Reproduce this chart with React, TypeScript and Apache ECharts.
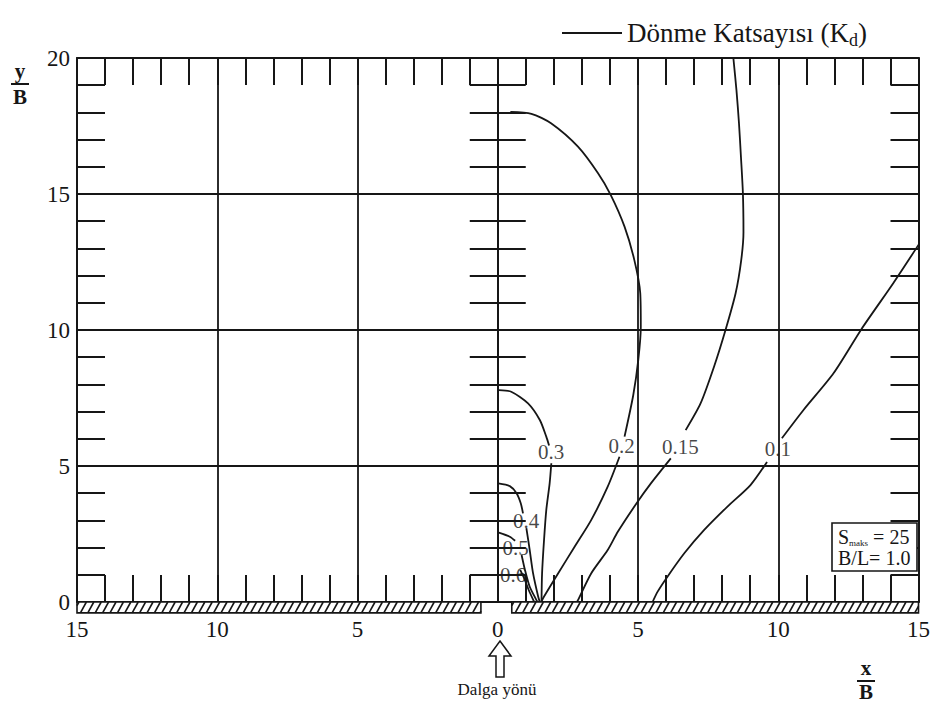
import React, { useEffect, useRef } from "react";
import * as echarts from "echarts";

// ---------- data (x/B, y/B) ----------
const X_MIN = -15;
const X_MAX = 15;
const Y_MIN = 0;
const Y_MAX = 20;
const MAJOR_STEP = 5;

const SERIES_NAME = "Dönme Katsayısı (Kd)";

// contour Kd = 0.2 (big loop), split where its label sits
const kd020Upper = [[0.45, 18.02], [1.2, 17.95], [1.9, 17.6], [2.86, 16.74], [3.57, 15.77], [4.03, 14.96], [4.52, 13.8], [4.87, 12.57], [5.08, 11.36], [5.1, 10.12], [5.01, 8.9], [4.83, 7.6], [4.52, 6.08]];
const kd020Lower = [[4.34, 5.34], [3.92, 4.24], [3.33, 3.01], [2.74, 2.03], [2.15, 1.05], [1.62, 0.15], [1.55, 0.0]];
// contour Kd = 0.3
const kd030Upper = [[0.04, 7.79], [0.48, 7.73], [1.08, 7.3], [1.5, 6.69], [1.73, 6.08], [1.83, 5.75]];
const kd030Lower = [[1.91, 5.1], [1.85, 4.36], [1.73, 3.38], [1.65, 2.28], [1.58, 1.05], [1.56, 0.0]];
// contour Kd = 0.4
const kd040Upper = [[0.02, 4.36], [0.43, 4.26], [0.67, 4.0], [0.82, 3.63], [0.9, 3.26]];
const kd040Lower = [[1.02, 2.72], [1.14, 1.91], [1.26, 1.05], [1.44, 0.2], [1.5, 0.0]];
// contour Kd = 0.5
const kd050Upper = [[0.04, 2.55], [0.43, 2.4], [0.62, 2.25]];
const kd050Lower = [[0.85, 1.73], [0.97, 1.18], [1.14, 0.56], [1.38, 0.07], [1.42, 0.0]];
// contour Kd = 0.6
const kd060Lower = [[0.8, 1.18], [0.95, 0.85], [1.1, 0.45], [1.3, 0.0]];
// contour Kd = 0.15
const kd015Upper = [[8.4, 20.0], [8.51, 18.82], [8.6, 17.6], [8.67, 16.37], [8.74, 15.03], [8.76, 13.6], [8.68, 12.57], [8.48, 11.35], [8.12, 10.0], [7.71, 8.65], [7.23, 7.3], [6.7, 6.32]];
const kd015Lower = [[6.17, 5.28], [5.46, 4.36], [4.95, 3.63], [4.28, 2.58], [3.92, 1.91], [3.33, 1.05], [2.86, 0.07], [2.82, 0.0]];
// contour Kd = 0.1
const kd010Lower = [[5.52, 0.0], [5.7, 0.38], [6.05, 0.93], [6.65, 1.79], [7.36, 2.65], [8.18, 3.5], [9.01, 4.3], [9.6, 5.15]];
const kd010Upper = [[10.13, 6.02], [10.9, 7.06], [11.97, 8.41], [12.97, 10.04], [14.1, 11.72], [15.0, 13.13]];

// contour labels: [x, y, text]
const contourLabels = [
  [1.9, 5.5, "0.3"],
  [4.42, 5.73, "0.2"],
  [6.51, 5.7, "0.15"],
  [9.99, 5.62, "0.1"],
  [1.01, 2.98, "0.4"],
  [0.64, 2.0, "0.5"],
  [0.55, 1.01, "0.6"],
];

// breakwater (hatched) extents along x, and its depth below y = 0
const wallSegments = [[-15, -0.6], [0.5, 15]];
const WALL_DEPTH = 0.4;

const INK = "#161616";
const SERIF = "Liberation Serif";

const contourSegments = [
  kd020Upper, kd020Lower, kd030Upper, kd030Lower, kd040Upper, kd040Lower,
  kd050Upper, kd050Lower, kd060Lower, kd015Upper, kd015Lower, kd010Lower, kd010Upper,
];

export default function App() {
  const ref = useRef<HTMLDivElement>(null);

  useEffect(() => {
    if (!ref.current) return;
    const chart = echarts.init(ref.current, undefined, { renderer: "svg" });

    const frameLine = { show: true, onZero: false, lineStyle: { color: INK, width: 2 } };
    const tickX = { show: true, inside: true, length: 27, lineStyle: { color: INK, width: 2 } };
    const minorX = { show: true, splitNumber: 5, length: 27, lineStyle: { color: INK, width: 2 } };
    const tickY = { show: true, inside: true, length: 28, lineStyle: { color: INK, width: 2 } };
    const minorY = { show: true, splitNumber: 5, length: 28, lineStyle: { color: INK, width: 2 } };

    const lineSeries = contourSegments.map((seg) => ({
      type: "line",
      name: SERIES_NAME,
      data: seg,
      symbol: "none",
      smooth: 0.25,
      xAxisIndex: 0,
      yAxisIndex: 0,
      lineStyle: { color: INK, width: 1.8 },
      itemStyle: { color: INK },
      z: 4,
      silent: true,
    }));

    const fracText = (text: string, y: number) => ({
      type: "text",
      x: 10,
      y,
      style: {
        text,
        fontFamily: SERIF,
        fontWeight: "bold",
        fontSize: 21,
        fill: INK,
        textAlign: "center",
        textVerticalAlign: "middle",
        verticalAlign: "middle",
      },
    });

    const option: any = {
      animation: false,
      backgroundColor: "#ffffff",
      grid: { left: 77, right: 11, top: 58, bottom: 102, containLabel: false },
      legend: {
        data: [{ name: SERIES_NAME, icon: "rect" }],
        left: 557,
        top: 12,
        itemWidth: 60,
        itemHeight: 2,
        itemGap: 10,
        selectedMode: false,
        itemStyle: { color: INK, borderWidth: 0 },
        formatter: () => "Dönme Katsayısı (K{sub|d})",
        textStyle: {
          fontFamily: SERIF,
          fontSize: 27,
          color: INK,
          lineHeight: 32,
          rich: {
            sub: { fontFamily: SERIF, fontSize: 18, verticalAlign: "bottom", lineHeight: 16, color: INK },
          },
        },
      },
      xAxis: [
        {
          type: "value",
          position: "bottom",
          min: X_MIN,
          max: X_MAX,
          interval: MAJOR_STEP,
          axisLine: frameLine,
          axisTick: tickX,
          minorTick: minorX,
          splitLine: { show: true, lineStyle: { color: INK, width: 1.8 } },
          axisLabel: {
            margin: 16,
            fontFamily: SERIF,
            fontSize: 23,
            color: INK,
            formatter: (v: number) => String(Math.abs(v)),
          },
        },
        {
          type: "value",
          position: "top",
          min: X_MIN,
          max: X_MAX,
          interval: MAJOR_STEP,
          axisLine: frameLine,
          axisTick: tickX,
          minorTick: minorX,
          splitLine: { show: false },
          axisLabel: { show: false },
        },
      ],
      yAxis: [
        {
          type: "value",
          position: "left",
          min: Y_MIN,
          max: Y_MAX,
          interval: MAJOR_STEP,
          axisLine: frameLine,
          axisTick: tickY,
          minorTick: minorY,
          splitLine: { show: true, lineStyle: { color: INK, width: 1.8 } },
          axisLabel: { margin: 7, fontFamily: SERIF, fontSize: 23, color: INK },
        },
        {
          type: "value",
          position: "right",
          min: Y_MIN,
          max: Y_MAX,
          interval: MAJOR_STEP,
          axisLine: frameLine,
          axisTick: tickY,
          minorTick: minorY,
          splitLine: { show: false },
          axisLabel: { show: false },
        },
        {
          type: "value",
          position: "left",
          min: Y_MIN,
          max: Y_MAX,
          interval: MAJOR_STEP,
          axisLine: { show: true, onZero: true, lineStyle: { color: INK, width: 2 } },
          axisTick: tickY,
          minorTick: minorY,
          splitLine: { show: false },
          axisLabel: { show: false },
        },
        {
          type: "value",
          position: "right",
          min: Y_MIN,
          max: Y_MAX,
          interval: MAJOR_STEP,
          axisLine: { show: true, onZero: true, lineStyle: { color: INK, width: 2 } },
          axisTick: tickY,
          minorTick: minorY,
          splitLine: { show: false },
          axisLabel: { show: false },
        },
      ],
      series: [
        ...lineSeries,
        {
          type: "scatter",
          name: "labels",
          data: contourLabels,
          xAxisIndex: 0,
          yAxisIndex: 0,
          symbolSize: 0,
          silent: true,
          z: 5,
          label: {
            show: true,
            position: "inside",
            formatter: (p: any) => p.value[2],
            fontFamily: SERIF,
            fontSize: 21,
            color: INK,
          },
        },
        {
          type: "custom",
          name: "wall",
          coordinateSystem: "cartesian2d",
          xAxisIndex: 0,
          yAxisIndex: 0,
          data: wallSegments.map((s) => [s[0], s[1], 0]),
          encode: { x: [0, 1], y: 2 },
          clip: false,
          silent: true,
          z: 6,
          renderItem: (params: any, api: any) => {
            const a = api.coord([api.value(0), 0]);
            const b = api.coord([api.value(1), -WALL_DEPTH]);
            const left = a[0];
            const right = b[0];
            const top = a[1];
            const bottom = b[1];
            const h = bottom - top;
            const dx = 6;
            const step = 7.4;
            const children: any[] = [
              {
                type: "rect",
                shape: { x: left, y: top, width: right - left, height: h },
                style: { fill: "#fff", stroke: INK, lineWidth: 1.6 },
              },
            ];
            for (let px = left - dx + 2; px < right; px += step) {
              let x1 = px, y1 = bottom, x2 = px + dx, y2 = top;
              if (x1 < left) {
                const t = (left - x1) / dx;
                x1 = left;
                y1 = bottom - t * h;
              }
              if (x2 > right) {
                const t = (right - px) / dx;
                x2 = right;
                y2 = bottom - t * h;
              }
              children.push({
                type: "line",
                shape: { x1, y1, x2, y2 },
                style: { stroke: INK, lineWidth: 1.6 },
              });
            }
            return { type: "group", children };
          },
        },
      ],
      graphic: [
        // y/B axis title
        {
          type: "group",
          x: 10,
          y: 0,
          children: [
            fracText("y", 71),
            { type: "line", shape: { x1: 1, y1: 84, x2: 19, y2: 84 }, style: { stroke: INK, lineWidth: 2 } },
            fracText("B", 97),
          ],
        },
        // x/B axis title
        {
          type: "group",
          x: 856,
          y: 0,
          children: [
            fracText("x", 668),
            { type: "line", shape: { x1: 1, y1: 681, x2: 19, y2: 681 }, style: { stroke: INK, lineWidth: 2 } },
            fracText("B", 692),
          ],
        },
        // wave direction arrow
        {
          type: "polygon",
          shape: { points: [[500, 641], [511, 656], [504, 656], [504, 677], [496, 677], [496, 656], [489, 656]] },
          style: { fill: "#fff", stroke: INK, lineWidth: 1.5 },
        },
        {
          type: "text",
          x: 497,
          y: 681,
          style: { text: "Dalga yönü", fontFamily: SERIF, fontSize: 17, fill: INK, textAlign: "center" },
        },
        // parameter box
        {
          type: "rect",
          shape: { x: 832, y: 523, width: 85, height: 48 },
          style: { fill: "#fff", stroke: INK, lineWidth: 1.6 },
          z: 20,
        },
        {
          type: "text",
          x: 838,
          y: 527,
          z: 21,
          style: {
            text: "{s|S}{sub|maks}{s| = 25}",
            fill: INK,
            rich: {
              s: { fontFamily: SERIF, fontSize: 20, color: INK, lineHeight: 20 },
              sub: { fontFamily: SERIF, fontSize: 9, color: INK, verticalAlign: "bottom", lineHeight: 10 },
            },
          },
        },
        {
          type: "text",
          x: 838,
          y: 548,
          z: 21,
          style: { text: "B/L= 1.0", fontFamily: SERIF, fontSize: 20, fill: INK },
        },
      ],
    };

    chart.setOption(option);
    return () => chart.dispose();
  }, []);

  return (
    <div
      ref={ref}
      style={{ position: "fixed", left: 0, top: 0, width: 933, height: 704, background: "#fff" }}
    />
  );
}
